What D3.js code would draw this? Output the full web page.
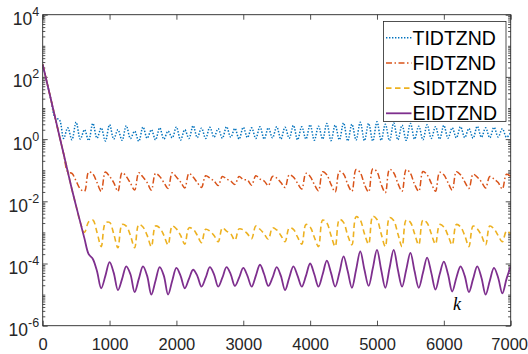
<!DOCTYPE html>
<html>
<head>
<meta charset="utf-8">
<script src="https://cdn.jsdelivr.net/npm/d3@7"></script>
<style>
  body { margin: 0; background: #fff; }
  svg { display: block; }
  .tick text { font-family: "Liberation Sans", Arial, sans-serif; fill: #262626; }
</style>
</head>
<body>
<svg width="528" height="354"></svg>
<script>
// sample step along k, one value per step starting at k = 0
const kStep = 62.5;

const seriesNames = ["TIDTZND", "FIDTZND", "SIDTZND", "EIDTZND"];
const seriesColors = ["#0072BD", "#D95319", "#EDB120", "#7E2F8E"];

const tidtznd = [250, 68, 18, 4.8,
    4.2, 1.05, 2.3, 0.95, 3.5, 1.0, 2.0, 0.9, 3.2, 1.07, 2.3, 0.87, 2.9, 1.0, 2.0, 0.91,
    2.7, 1.05, 1.8, 0.85, 2.45, 1.07, 2.0, 0.95, 2.3, 1.0, 1.8, 1.1, 2.45, 0.93, 2.0, 1.05,
    2.7, 1.12, 2.24, 1.05, 2.4, 1.15, 2.15, 1.07, 2.5, 1.15, 2.2, 1.0, 2.4, 1.12, 2.3, 1.05,
    2.5, 1.0, 2.3, 1.1, 2.5, 1.0, 2.4, 1.07, 2.75, 0.95, 2.5, 1.0, 2.9, 0.91, 2.6, 1.0,
    3.2, 0.89, 2.8, 0.95, 3.3, 0.87, 3.0, 0.93, 3.5, 0.89, 3.2, 0.87, 3.6, 0.91, 3.0, 0.89,
    3.3, 0.95, 2.8, 0.91, 3.2, 1.0, 2.6, 0.95, 2.9, 1.05, 2.5, 1.0, 2.75, 1.07, 2.3, 1.1,
    2.5, 1.12, 2.2, 1.07, 2.6, 1.15, 2.3, 1.1, 2.4, 1.17, 2.15, 1.15, 1.6];

const fidtznd = [250, 68, 18, 4.8, 1.26, 0.34,
    0.089, 0.079, 0.045, 0.025, 0.021, 0.087, 0.076, 0.04, 0.021, 0.087, 0.063, 0.04,
    0.021, 0.083, 0.063, 0.038, 0.023, 0.083, 0.06, 0.04, 0.023, 0.079, 0.063, 0.04,
    0.026, 0.083, 0.06, 0.042, 0.027, 0.079, 0.06, 0.04, 0.028, 0.066, 0.056, 0.045,
    0.032, 0.063, 0.052, 0.045, 0.035, 0.063, 0.05, 0.048, 0.033, 0.066, 0.052, 0.045,
    0.032, 0.063, 0.056, 0.04, 0.028, 0.071, 0.06, 0.038, 0.025, 0.079, 0.063, 0.035,
    0.022, 0.089, 0.071, 0.035, 0.02, 0.091, 0.076, 0.035, 0.021, 0.105, 0.083, 0.035,
    0.02, 0.11, 0.089, 0.035, 0.019, 0.107, 0.083, 0.038, 0.021, 0.105, 0.079, 0.035,
    0.021, 0.091, 0.071, 0.038, 0.021, 0.085, 0.071, 0.04, 0.023, 0.089, 0.071, 0.042,
    0.026, 0.074, 0.06, 0.042, 0.027, 0.063, 0.052, 0.04, 0.025, 0.074, 0.063];

const sidtznd = [250, 68, 18, 4.8, 1.26, 0.34, 0.089, 0.024, 7e-3, 2.1e-3,
    1e-3, 2.2e-3, 2.5e-3, 1e-3, 3.5e-4, 2e-3, 2.1e-3, 9e-4, 3.2e-4, 1.8e-3,
    1.6e-3, 8e-4, 3.2e-4, 1.8e-3, 1.5e-3, 8e-4, 3.5e-4, 1.6e-3, 1.4e-3, 8e-4,
    4e-4, 1.6e-3, 1.3e-3, 8e-4, 4.2e-4, 1.4e-3, 1.26e-3, 8e-4, 4.7e-4, 1.26e-3,
    1.1e-3, 8e-4, 5e-4, 1.4e-3, 1.1e-3, 9e-4, 5.6e-4, 1.3e-3, 1.2e-3, 9e-4,
    6.3e-4, 1.6e-3, 1.26e-3, 9e-4, 6e-4, 1.4e-3, 1.2e-3, 8e-4, 5e-4, 1.4e-3,
    1.26e-3, 7e-4, 4.2e-4, 1.8e-3, 1.5e-3, 7e-4, 3.5e-4, 2.5e-3, 2e-3, 8e-4,
    3.5e-4, 2.6e-3, 2.1e-3, 8e-4, 4e-4, 3.2e-3, 2.5e-3, 9e-4, 4.2e-4, 3.3e-3,
    2.6e-3, 9e-4, 3.5e-4, 3e-3, 2.4e-3, 9e-4, 3.5e-4, 2.5e-3, 2.1e-3, 9e-4,
    4e-4, 2.5e-3, 2e-3, 9e-4, 4.2e-4, 1.8e-3, 1.5e-3, 8e-4, 4e-4, 1.8e-3,
    1.5e-3, 8e-4, 3.5e-4, 1.6e-3, 1.3e-3, 8e-4, 4e-4, 1.6e-3, 1.3e-3, 8e-4,
    5e-4, 1.1e-3, 9e-4];

const eidtznd = [250, 68, 18, 4.8, 1.26, 0.34, 0.089, 0.024, 7e-3, 2.1e-3, 6.3e-4, 2e-4,
    1.4e-4, 5.6e-5, 1.6e-5, 4e-5, 1.1e-4, 5e-5, 1.4e-5, 3.2e-5, 8.1e-5, 4.5e-5,
    1.2e-5, 3.2e-5, 8.1e-5, 4e-5, 1e-5, 2.8e-5, 7.6e-5, 4e-5, 1e-5, 2.8e-5,
    7.2e-5, 4e-5, 1.6e-5, 3.2e-5, 6.3e-5, 4e-5, 1.8e-5, 3.5e-5, 7.6e-5, 4.5e-5,
    1.8e-5, 3.5e-5, 7.6e-5, 4.5e-5, 1.9e-5, 3.5e-5, 7.2e-5, 4e-5, 1.8e-5, 4e-5,
    9.1e-5, 4.5e-5, 1.9e-5, 3.5e-5, 7.6e-5, 4e-5, 1.4e-5, 3.5e-5, 8.1e-5, 4e-5,
    1.8e-5, 4e-5, 1e-4, 4.5e-5, 1.8e-5, 4.5e-5, 1.23e-4, 5e-5, 1.8e-5, 5e-5,
    1.7e-4, 5.6e-5, 1.66e-5, 6.3e-5, 2.45e-4, 6.3e-5, 1.9e-5, 7e-5, 2.75e-4, 6.3e-5,
    1.66e-5, 7e-5, 2.75e-4, 6.3e-5, 1.8e-5, 6.3e-5, 2.2e-4, 5.6e-5, 1.66e-5, 5e-5,
    1.55e-4, 5e-5, 1.45e-5, 4.5e-5, 1.15e-4, 4.5e-5, 1.26e-5, 3.5e-5, 8.1e-5, 4e-5,
    1.2e-5, 3.2e-5, 8.1e-5, 3.5e-5, 1e-5, 2.8e-5, 7.2e-5, 3.5e-5, 1.1e-5, 3.2e-5,
    8.1e-5];

const xTicks = [0, 1000, 2000, 3000, 4000, 5000, 6000, 7000];
const yLabelExps = [4, 2, 0, -2, -4, -6];

const lineDash = ["1.4,1.6", "6,2.5,1.5,2.5", "5.5,3.5", null];
const lineWidths = [1.5, 1.5, 1.6, 1.8];

const svg = d3.select("svg");
const plot = {left: 42.7, right: 510.7, top: 14.7, bottom: 325.7};

const x = d3.scaleLinear().domain([0, 7000]).range([plot.left, plot.right]);
const y = d3.scaleLog().domain([1e-6, 1e4]).range([plot.bottom, plot.top]);

svg.append("defs").append("clipPath").attr("id", "clip")
    .append("rect")
        .attr("x", plot.left).attr("y", plot.top)
        .attr("width", plot.right - plot.left).attr("height", plot.bottom - plot.top);

// ticks: major on even decades, minor everywhere else
let majorY = yLabelExps.map(e => Math.pow(10, e));
let minorY = [];
for (let e = -6; e < 4; e++) {
    for (let m = 1; m <= 9; m++) {
        if (m === 1 && e % 2 === 0) continue;
        minorY.push(m * Math.pow(10, e));
    }
}

const axisColor = "#262626";
function styleAxis (g) {
    g.select(".domain").remove();
    g.selectAll(".tick line").attr("stroke", axisColor).attr("stroke-width", 0.8);
}

svg.append("g").attr("transform", `translate(0,${plot.bottom})`)
    .call(d3.axisBottom(x).tickValues(xTicks).tickSize(-5).tickPadding(13).tickFormat(d3.format("d")))
    .call(styleAxis)
    .call(g => g.selectAll(".tick text").attr("font-size", 16.5))
    // the last label sits against the right edge of the window
    .call(g => g.selectAll(".tick text").filter(d => d === 7000).attr("text-anchor", "end").attr("x", 527.5 - plot.right));
svg.append("g").attr("transform", `translate(0,${plot.top})`)
    .call(d3.axisTop(x).tickValues(xTicks).tickSize(-5).tickFormat(""))
    .call(styleAxis);

[[plot.left, d3.axisLeft], [plot.right, d3.axisRight]].forEach(([pos, axisFn]) => {
    svg.append("g").attr("transform", `translate(${pos},0)`)
        .call(axisFn(y).tickValues(majorY).tickSize(-5).tickFormat(""))
        .call(styleAxis);
    svg.append("g").attr("transform", `translate(${pos},0)`)
        .call(axisFn(y).tickValues(minorY).tickSize(-2.6).tickFormat(""))
        .call(styleAxis);
});

// y labels as 10 with a superscript exponent
let yLab = svg.append("g").attr("font-family", "Liberation Sans, Arial, sans-serif").attr("fill", axisColor);
yLabelExps.forEach(e => {
    let t = yLab.append("text")
        .attr("x", plot.left - 3.5)
        .attr("y", y(Math.pow(10, e)) + 10.5)
        .attr("text-anchor", "end")
        .attr("font-size", 17.5);
    t.append("tspan").text("10");
    t.append("tspan").attr("font-size", 12.5).attr("dy", -9).text(String(e));
});

// series
const line = d3.line()
    .x((d, i) => x(i * kStep))
    .y(d => y(d))
    .curve(d3.curveCatmullRom.alpha(0.5));

const lines = svg.append("g").attr("clip-path", "url(#clip)");
[tidtznd, fidtznd, sidtznd, eidtznd].forEach((data, i) => {
    lines.append("path")
        .attr("d", line(data))
        .attr("fill", "none")
        .attr("stroke", seriesColors[i])
        .attr("stroke-width", lineWidths[i])
        .attr("stroke-dasharray", lineDash[i]);
});

// frame
svg.append("rect")
    .attr("x", plot.left).attr("y", plot.top)
    .attr("width", plot.right - plot.left).attr("height", plot.bottom - plot.top)
    .attr("fill", "none").attr("stroke", axisColor).attr("stroke-width", 0.9);

svg.append("text")
    .attr("x", 453).attr("y", 310)
    .attr("font-family", "Liberation Serif, Times New Roman, serif")
    .attr("font-style", "italic")
    .attr("font-size", 18)
    .attr("fill", "#000")
    .text("k");

// legend
const legend = svg.append("g");
legend.append("rect")
    .attr("x", 383.5).attr("y", 21.5).attr("width", 122.5).attr("height", 100)
    .attr("fill", "#fff").attr("stroke", axisColor).attr("stroke-width", 0.8);
seriesNames.forEach((name, i) => {
    let cy = 37.7 + i * 25.2;
    legend.append("line")
        .attr("x1", 386).attr("x2", 411.5).attr("y1", cy).attr("y2", cy)
        .attr("stroke", seriesColors[i]).attr("stroke-width", lineWidths[i])
        .attr("stroke-dasharray", lineDash[i]);
    legend.append("text")
        .attr("x", 412.5).attr("y", cy + 7)
        .attr("font-family", "Liberation Sans, Arial, sans-serif")
        .attr("font-size", 19.5)
        .attr("fill", "#000")
        .text(name);
});
</script>
</body>
</html>
